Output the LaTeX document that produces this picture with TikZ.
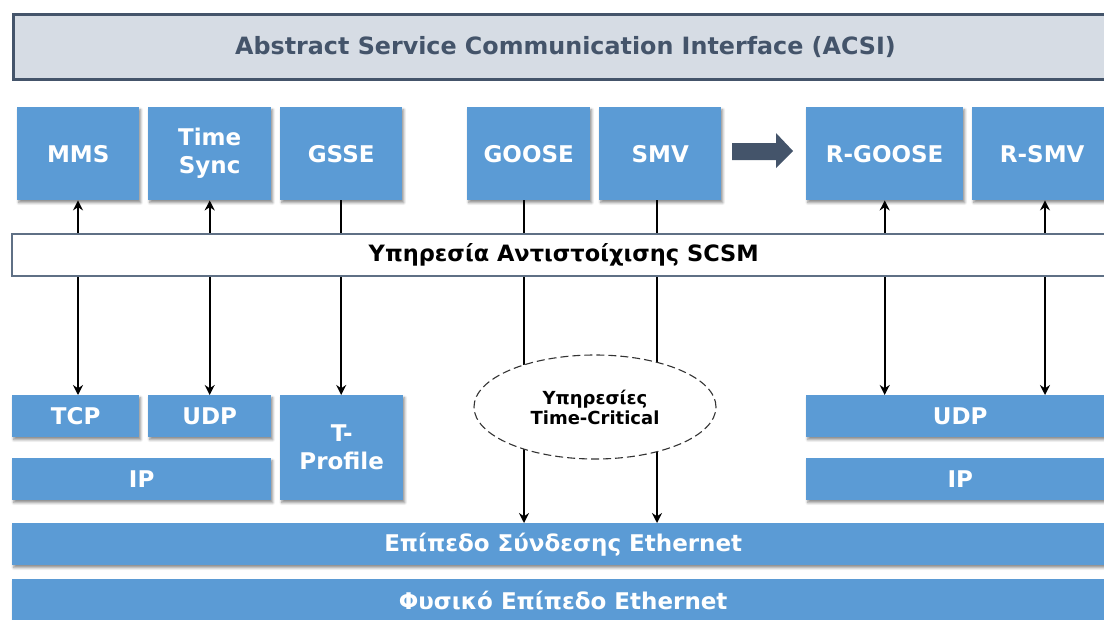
\documentclass[tikz,border=0pt]{standalone}
\usepackage{fontspec}
\setmainfont{DejaVu Sans}
\usetikzlibrary{shadows.blur,backgrounds,arrows.meta,shapes.geometric}
\definecolor{boxblue}{HTML}{5B9BD5}
\definecolor{slate}{HTML}{44546A}
\definecolor{acsifill}{HTML}{D6DCE4}
\definecolor{barline}{HTML}{5F7085}
\tikzset{
  layerbox/.style={fill=boxblue, text=white, align=center, anchor=north west, inner sep=0pt,
    font=\bfseries\fontsize{23}{28}\selectfont,
    blur shadow={shadow xshift=1.5pt, shadow yshift=-2.5pt, shadow blur radius=2.5pt, shadow blur steps=6, shadow opacity=45}},
  conn/.style={line width=1.9pt, black},
  tip/.style={-{Stealth[length=10pt,width=10pt]}},
  tips/.style={{Stealth[length=10pt,width=10pt]}-{Stealth[length=10pt,width=10pt]}},
}
\begin{document}
\begin{tikzpicture}[x=1pt,y=-1pt]
\useasboundingbox (0,0) rectangle (1104,619);
\clip (0,0) rectangle (1104,619);
% ACSI
\node[draw=slate, line width=3pt, fill=acsifill, anchor=north west, minimum width=1110pt, minimum height=65pt, inner sep=0pt, text=slate, font=\bfseries\fontsize{23.8}{28}\selectfont] (acsi) at (12,13) {\hspace*{-6pt}Abstract Service Communication Interface (ACSI)};
% top row
\node[layerbox, minimum width=122pt, minimum height=93pt] (mms) at (17,107) {MMS};
\node[layerbox, minimum width=123pt, minimum height=93pt] (sync) at (148,107) {Time\\Sync};
\node[layerbox, minimum width=122pt, minimum height=93pt] (gsse) at (280,107) {GSSE};
\node[layerbox, minimum width=123pt, minimum height=93pt] (goose) at (467,107) {GOOSE};
\node[layerbox, minimum width=122pt, minimum height=93pt] (smv) at (599,107) {SMV};
\node[layerbox, minimum width=157pt, minimum height=93pt] (rgoose) at (806,107) {R-GOOSE};
\node[layerbox, minimum width=140pt, minimum height=93pt] (rsmv) at (972,107) {R-SMV};
% big arrow
\fill[slate] (732,143) -- (776,143) -- (776,133) -- (793,151) -- (776,168) -- (776,160) -- (732,160) -- cycle;
% SCSM bar
\node[draw=barline, line width=1.5pt, fill=white, anchor=north west, minimum width=1110pt, minimum height=42pt, inner sep=0pt, font=\bfseries\fontsize{22.5}{26}\selectfont] (scsm) at (11,233) {\hspace*{-6pt}Υπηρεσία Αντιστοίχισης SCSM};
% bottom left
\node[layerbox, minimum width=127pt, minimum height=42pt] (tcp) at (12,395) {TCP};
\node[layerbox, minimum width=123pt, minimum height=42pt] (udpl) at (148,395) {UDP};
\node[layerbox, minimum width=259pt, minimum height=42pt] (ipl) at (12,458) {IP};
\node[layerbox, minimum width=123pt, minimum height=105pt] (tprof) at (280,395) {T-\\Profile};
% right
\node[layerbox, minimum width=308pt, minimum height=42pt] (udpr) at (806,395) {UDP};
\node[layerbox, minimum width=308pt, minimum height=42pt] (ipr) at (806,458) {IP};
% ethernet
\node[layerbox, minimum width=1102pt, minimum height=42pt] (eth) at (12,523) {Επίπεδο Σύνδεσης Ethernet};
\node[layerbox, minimum width=1102pt, minimum height=42pt] (phy) at (12,579) {Φυσικό Επίπεδο Ethernet};
% ellipse
\node[ellipse, draw=black!80, dash pattern=on 8pt off 4pt, line width=1.1pt, fill=white, minimum width=242pt, minimum height=104pt, inner sep=0pt, align=center, font=\bfseries\fontsize{18}{20}\selectfont] (tc) at (595,407) {Υπηρεσίες\\Time-Critical};
% connectors
\begin{pgfonlayer}{background}
\draw[conn,tips] (mms.south -| 78,0) -- (tcp.north -| 78,0);
\draw[conn,tips] (sync.south) -- (sync.south |- udpl.north);
\draw[conn,tip] (gsse.south) -- (gsse.south |- tprof.north);
\draw[conn,tip] (goose.south -| 524,0) -- (eth.north -| 524,0);
\draw[conn,tip] (smv.south -| 657,0) -- (eth.north -| 657,0);
\draw[conn,tips] (rgoose.south) -- (rgoose.south |- udpr.north);
\draw[conn,tips] (rsmv.south -| 1045,0) -- (udpr.north -| 1045,0);
\end{pgfonlayer}
\end{tikzpicture}
\end{document}
